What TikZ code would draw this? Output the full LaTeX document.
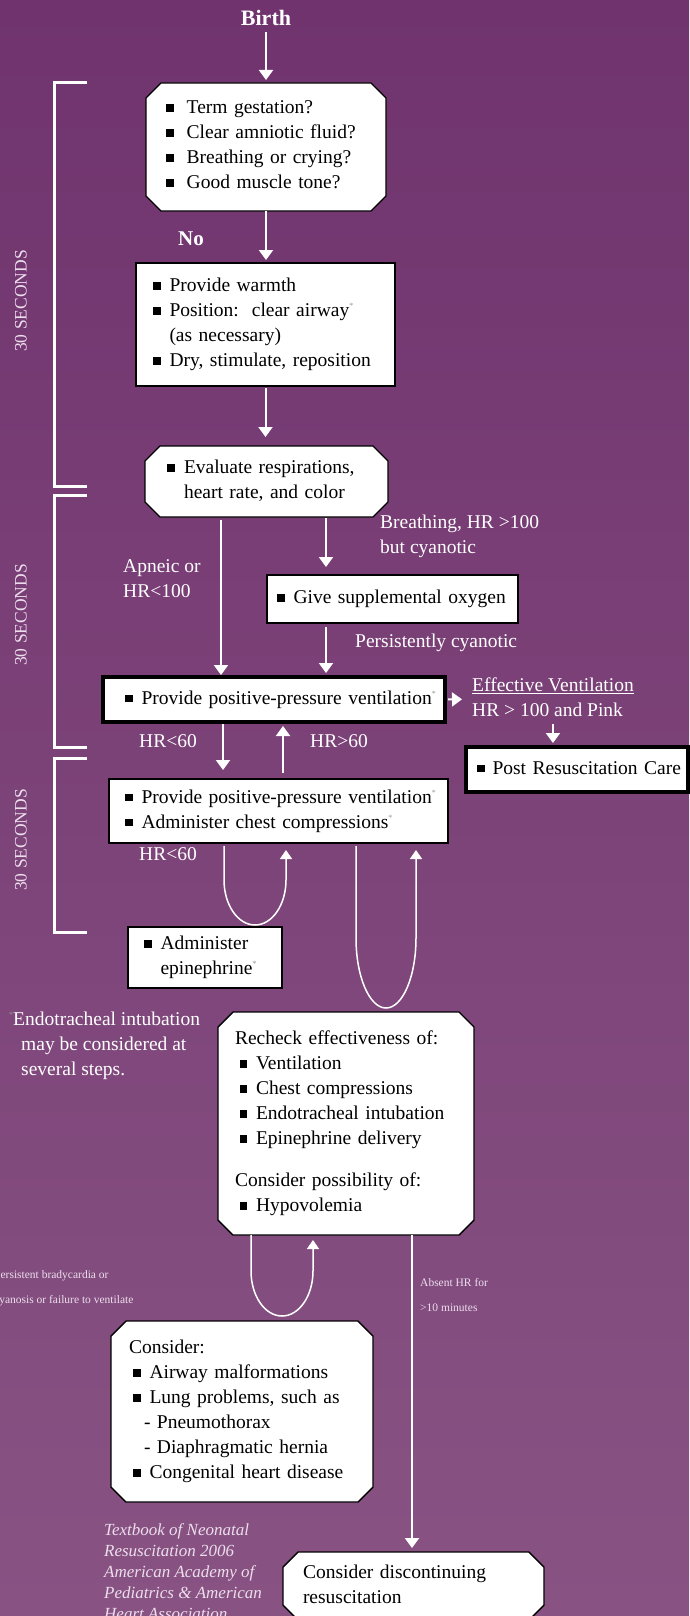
\documentclass[tikz,border=0pt]{standalone}
\usepackage{fontspec}
\setmainfont{Liberation Serif}
\usetikzlibrary{arrows.meta,positioning,calc,backgrounds}
\definecolor{bgtop}{RGB}{112,51,110}
\definecolor{bgbottom}{RGB}{136,83,131}
\definecolor{paletext}{RGB}{236,222,236}
\definecolor{stargray}{RGB}{150,150,150}

% struts and list items
\newcommand{\st}{\rule[-8pt]{0pt}{25pt}}
\newcommand{\ct}{\rule[-6pt]{0pt}{21pt}}
\newcommand{\itm}[2][16.5pt]{\mbox{\makebox[#1][l]{\rule[2pt]{7.5pt}{7.5pt}}#2\st}}
\newcommand{\txt}[1]{\mbox{#1\st}}
\newcommand{\fnmark}{\raisebox{8pt}{\fontsize{8}{8}\selectfont\color{stargray}*}}

% outline with cut corners round a named node
\newcommand{\chamfer}[1]{%
  \filldraw[fill=white, draw=black, line width=1.4pt]
    ([xshift=15pt]#1.north west) -- ([xshift=-15pt]#1.north east) --
    ([yshift=-15pt]#1.north east) -- ([yshift=15pt]#1.south east) --
    ([xshift=-15pt]#1.south east) -- ([xshift=15pt]#1.south west) --
    ([yshift=15pt]#1.south west) -- ([yshift=-15pt]#1.north west) -- cycle;}

\tikzset{
  box/.style={draw=black, fill=white, line width=1.4pt, outer sep=0pt, inner ysep=0pt,
    align=left, anchor=north, font=\fontsize{19.5}{25}\selectfont},
  cbox/.style={box, draw=none, fill=none},
  tbox/.style={box, line width=3.5pt},
  arr/.style={draw=white, line width=2pt, -{Triangle[width=14pt,length=10pt]}},
  loopline/.style={draw=white, line width=1.5pt, -{Triangle[width=12pt,length=9pt]}},
  lbl/.style={text=white, inner sep=0pt, font=\fontsize{19.5}{25}\selectfont},
  bracket/.style={draw=white, line width=3pt},
  secs/.style={text=paletext, rotate=90, inner sep=0pt, font=\fontsize{17.5}{20}\selectfont}
}

\begin{document}
\begin{tikzpicture}[x=1pt,y=-1pt,>=Triangle]
    \useasboundingbox (0,0) rectangle (689,1616);
    \begin{scope}[on background layer]
        \shade[top color=bgtop, bottom color=bgbottom] (0,0) rectangle (689,1616);
    \end{scope}

    % 30 second brackets
    \draw[bracket] (87,83) -- (54,83) -- (54,486) -- (87,486);
    \draw[bracket] (87,495) -- (54,495) -- (54,747) -- (87,747);
    \draw[bracket] (87,758) -- (54,758) -- (54,932) -- (87,932);
    \node[secs] (sec1) at (21,301) {30 SECONDS};
    \node[secs] (sec2) at (21,615) {30 SECONDS};
    \node[secs] (sec3) at (21,840) {30 SECONDS};

    % Boxes
    \node[cbox, minimum width=240pt, minimum height=128pt, inner xsep=20pt, text width=200pt] (q1) at (266,83)
        {\itm[20.7pt]{Term gestation?}\\ \itm[20.7pt]{Clear amniotic fluid?}\\
         \itm[20.7pt]{Breathing or crying?}\\ \itm[20.7pt]{Good muscle tone?}};
    \node[box, minimum width=259pt, minimum height=123pt, inner xsep=17pt, text width=225pt] (warm) at (265.5,263)
        {\itm{Provide warmth}\\ \itm{Position:\ \ clear airway\fnmark}\\
         \txt{\hspace*{16.5pt}(as necessary)}\\ \itm{Dry, stimulate, reposition}};
    \node[cbox, minimum width=243pt, minimum height=71pt, inner xsep=22pt, text width=199pt] (eval) at (266.5,446)
        {\itm[17pt]{Evaluate respirations,}\\ \txt{\hspace*{17pt}heart rate, and color}};
    \node[box, minimum width=251pt, minimum height=48pt, inner xsep=10pt, text width=231pt] (oxy) at (392.5,575)
        {\itm{Give supplemental oxygen}};
    \node[tbox, minimum width=342pt, minimum height=45pt, inner xsep=22pt, text width=298pt] (ppv) at (274,677)
        {\itm{Provide positive-pressure ventilation\fnmark}};
    \node[tbox, minimum width=222pt, minimum height=45pt, inner xsep=11pt, text width=200pt] (post) at (577,747)
        {\itm[15.5pt]{Post Resuscitation Care}};
    \node[box, minimum width=339pt, minimum height=64pt, inner xsep=16pt, text width=307pt] (cpr) at (278.5,779)
        {\itm{Provide positive-pressure ventilation\fnmark}\\ \itm{Administer chest compressions\fnmark}};
    \node[box, minimum width=154pt, minimum height=61pt, inner xsep=16pt, text width=122pt] (epi) at (205,927)
        {\itm{Administer}\\ \txt{\hspace*{16.5pt}epinephrine\fnmark}};
    \node[cbox, minimum width=256pt, minimum height=223pt, inner xsep=17pt, text width=222pt] (recheck) at (346,1012)
        {\txt{Recheck effectiveness of:}\\
         \txt{\hspace*{4.5pt}\itm{Ventilation}}\\ \txt{\hspace*{4.5pt}\itm{Chest compressions}}\\
         \txt{\hspace*{4.5pt}\itm{Endotracheal intubation}}\\ \txt{\hspace*{4.5pt}\itm{Epinephrine delivery}}\\[17pt]
         \txt{Consider possibility of:}\\ \txt{\hspace*{4.5pt}\itm{Hypovolemia}}};
    \node[cbox, minimum width=262pt, minimum height=181pt, inner xsep=18pt, text width=226pt] (consider) at (242,1321)
        {\txt{Consider:}\\ \txt{\hspace*{4pt}\itm{Airway malformations}}\\
         \txt{\hspace*{4pt}\itm{Lung problems, such as}}\\ \txt{\hspace*{15pt}- Pneumothorax}\\
         \txt{\hspace*{15pt}- Diaphragmatic hernia}\\ \txt{\hspace*{4pt}\itm{Congenital heart disease}}};
    \node[cbox, minimum width=261pt, minimum height=68pt, inner xsep=20pt, text width=221pt] (stop) at (413.5,1552)
        {\txt{Consider discontinuing}\\ \txt{resuscitation}};

    % Cut-corner outlines behind the text
    \begin{scope}[on background layer]
        \chamfer{q1}
        \chamfer{eval}
        \chamfer{recheck}
        \chamfer{consider}
        \chamfer{stop}
    \end{scope}

    % Labels
    \node[lbl, font=\fontsize{22}{25}\selectfont\bfseries, anchor=base] (birth) at (266,26) {Birth};
    \node[lbl, font=\fontsize{21}{25}\selectfont\bfseries, anchor=base west] (no) at (178,245) {No};
    \node[lbl, anchor=north west, align=left] (breath) at (380,511) {\txt{Breathing, HR >100}\\ \txt{but cyanotic}};
    \node[lbl, anchor=north west, align=left] (apneic) at (123,555) {\txt{Apneic or}\\ \txt{HR<100}};
    \node[lbl, anchor=base west] (cyan) at (355,647) {Persistently cyanotic};
    \node[lbl, anchor=north west, align=left] (effvent) at (472,674)
        {\txt{\underline{Effective Ventilation}}\\ \txt{HR > 100 and Pink}};
    \node[lbl, anchor=base west] (low1) at (139,747) {HR<60};
    \node[lbl, anchor=base west] (high) at (310,747) {HR>60};
    \node[lbl, anchor=base west] (low2) at (139,860) {HR<60};
    \node[lbl, anchor=north west, align=left] (note) at (9,1008)
        {\txt{\fnmark Endotracheal intubation}\\ \txt{\hspace*{12pt}may be considered at}\\ \txt{\hspace*{12pt}several steps.}};
    \node[lbl, anchor=north west, align=left, text=paletext, font=\fontsize{11.5}{25}\selectfont] (brady) at (-6,1261)
        {\txt{Persistent bradycardia or}\\ \txt{cyanosis or failure to ventilate}};
    \node[lbl, anchor=north west, align=left, text=paletext, font=\fontsize{11.5}{25}\selectfont] (absent) at (420,1269)
        {\txt{Absent HR for}\\ \txt{>10 minutes}};
    \node[lbl, anchor=north west, align=left, text=paletext, font=\fontsize{17}{21}\selectfont\itshape] (cite) at (104,1520)
        {\ct Textbook of Neonatal\\ \ct Resuscitation 2006\\ \ct American Academy of\\
         \ct Pediatrics \& American\\ \ct Heart Association};

    % Connectors
    \draw[arr, shorten <=6pt, shorten >=3pt] (birth) -- (q1);
    \draw[arr, shorten >=3pt] (q1.south) -- (q1.south |- warm.north);
    \draw[arr, shorten <=2pt, shorten >=9pt] (warm.south) -- (warm.south |- eval.north);
    \draw[arr, shorten <=3pt, shorten >=2pt] ([xshift=-45.5pt]eval.south) -- ([xshift=-45.5pt]eval.south |- ppv.north);
    \draw[arr, shorten <=1pt, shorten >=8pt] ([xshift=59.5pt]eval.south) -- ([xshift=59.5pt]eval.south |- oxy.north);
    \draw[arr, shorten <=4pt, shorten >=4pt] ([xshift=-66.5pt]oxy.south) -- ([xshift=-66.5pt]oxy.south |- ppv.north);
    \draw[arr, shorten <=3pt, shorten >=10pt] (ppv.east) -- (effvent.west);
    \draw[arr, shorten >=4pt] (effvent.south) -- (effvent.south |- post.north);
    \draw[arr, shorten <=2pt, shorten >=9pt] ([xshift=-51pt]ppv.south) -- ([xshift=-51pt]ppv.south |- cpr.north);
    \draw[arr, shorten <=6pt, shorten >=4pt] ([xshift=4.5pt]cpr.north) -- ([xshift=4.5pt]cpr.north |- ppv.south);

    % Loops back up
    \draw[loopline, shorten <=3pt, shorten >=7pt] ([xshift=-54.5pt]cpr.south) -- ++(0,37)
        arc[start angle=180, end angle=0, x radius=31, y radius=45] -- ([xshift=7.5pt]cpr.south);
    \draw[loopline, shorten <=3pt, shorten >=7pt] ([xshift=77.5pt]cpr.south) -- ++(0,95)
        arc[start angle=180, end angle=0, x radius=30, y radius=70] -- ([xshift=137.5pt]cpr.south);
    \draw[loopline, shorten >=5pt] ([xshift=-95pt]recheck.south) -- ++(0,36)
        arc[start angle=180, end angle=0, x radius=31, y radius=45] -- ([xshift=-33pt]recheck.south);
    \draw[arr, shorten >=4pt] ([xshift=66pt]recheck.south) -- ([xshift=66pt]recheck.south |- stop.north);
\end{tikzpicture}
\end{document}
